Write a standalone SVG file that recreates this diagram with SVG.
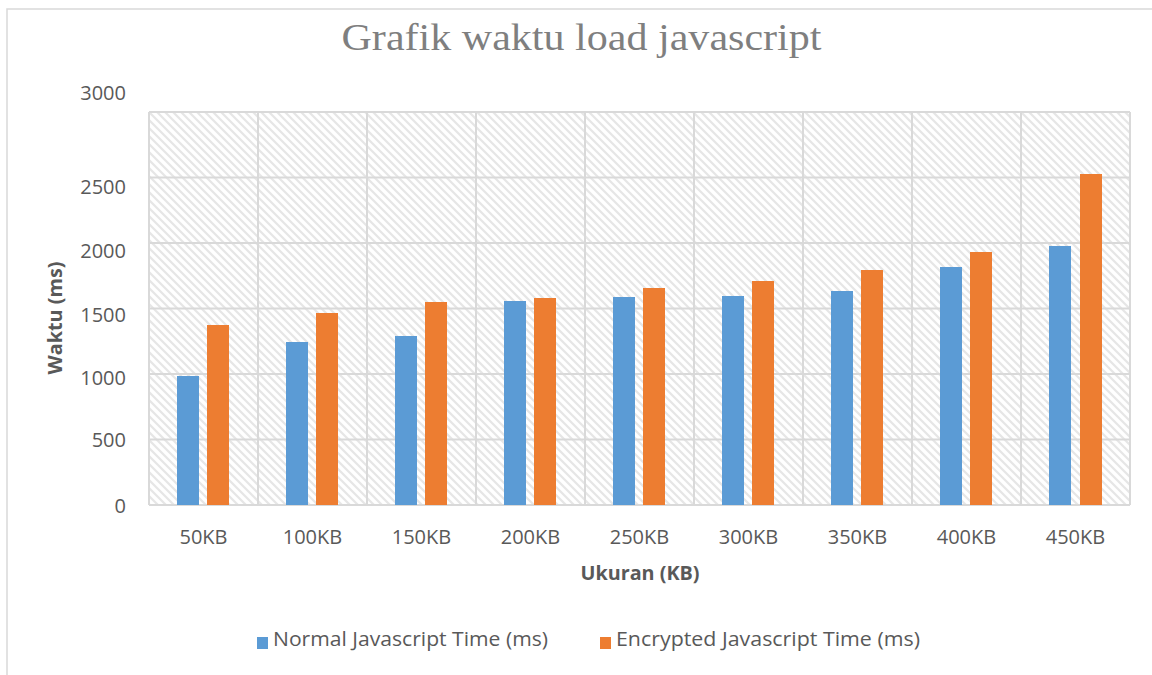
<svg xmlns="http://www.w3.org/2000/svg" width="1152" height="675" viewBox="0 0 1152 675">
  <style>
    .tick { font-family: "Open Sans", "Liberation Sans", sans-serif; font-size: 20px; fill: #595959; }
    .axis-title { font-family: "Open Sans", "Liberation Sans", sans-serif; font-size: 20px; font-weight: bold; fill: #595959; }
    .legend { font-family: "Open Sans", "Liberation Sans", sans-serif; font-size: 20px; fill: #595959; }
    .title { font-family: "Liberation Serif", "Times New Roman", serif; font-size: 38px; fill: #7f7f7f; }
    .grid line { stroke: #d9d9d9; stroke-width: 2; }
    .normal { fill: #5b9bd5; }
    .encrypted { fill: #ed7d31; }
  </style>
  <defs>
    <!-- wide downward diagonal fill for the plot area -->
    <pattern id="hatch" patternUnits="userSpaceOnUse" x="149" y="112" width="8" height="8">
      <rect width="8" height="8" fill="#ffffff"/>
      <path d="M-2,-2 L10,10 M-2,6 L2,10 M6,-2 L10,2" stroke="#e6e6e6" stroke-width="2.2"/>
    </pattern>
  </defs>

  <rect width="1152" height="675" fill="#ffffff"/>
  <!-- chart frame -->
  <path d="M7,675 L7,9 L1152,9" fill="none" stroke="#d9d9d9" stroke-width="1.5"/>

  <text class="title" x="581.5" y="50" text-anchor="middle" textLength="480" lengthAdjust="spacingAndGlyphs">Grafik waktu load javascript</text>

  <!-- plot area -->
  <rect x="149" y="112" width="981" height="393" fill="url(#hatch)"/>

  <g class="grid" id="gridlines">
    <line x1="149" y1="112" x2="1130" y2="112"/>
    <line x1="149" y1="177.5" x2="1130" y2="177.5"/>
    <line x1="149" y1="243" x2="1130" y2="243"/>
    <line x1="149" y1="308.5" x2="1130" y2="308.5"/>
    <line x1="149" y1="374" x2="1130" y2="374"/>
    <line x1="149" y1="439.5" x2="1130" y2="439.5"/>
    <line x1="149" y1="505" x2="1130" y2="505"/>
    <line x1="149" y1="112" x2="149" y2="505"/>
    <line x1="258" y1="112" x2="258" y2="505"/>
    <line x1="367" y1="112" x2="367" y2="505"/>
    <line x1="476" y1="112" x2="476" y2="505"/>
    <line x1="585" y1="112" x2="585" y2="505"/>
    <line x1="694" y1="112" x2="694" y2="505"/>
    <line x1="803" y1="112" x2="803" y2="505"/>
    <line x1="912" y1="112" x2="912" y2="505"/>
    <line x1="1021" y1="112" x2="1021" y2="505"/>
    <line x1="1130" y1="112" x2="1130" y2="505"/>
  </g>

  <!-- y axis ticks -->
  <g id="y-axis">
    <text class="tick" x="126" y="100" text-anchor="end">3000</text>
    <text class="tick" x="126" y="194" text-anchor="end">2500</text>
    <text class="tick" x="126" y="258" text-anchor="end">2000</text>
    <text class="tick" x="126" y="321.5" text-anchor="end">1500</text>
    <text class="tick" x="126" y="384.5" text-anchor="end">1000</text>
    <text class="tick" x="126" y="446.5" text-anchor="end">500</text>
    <text class="tick" x="126" y="512.5" text-anchor="end">0</text>
    <text class="axis-title" transform="translate(62,318) rotate(-90)" text-anchor="middle" textLength="113" lengthAdjust="spacingAndGlyphs">Waktu (ms)</text>
  </g>

  <!-- bars: normal (blue) and encrypted (orange) per size -->
  <g id="bar-50KB"><rect class="normal" x="177" y="376" width="22" height="129"/><rect class="encrypted" x="207" y="325" width="22" height="180"/></g>
  <g id="bar-100KB"><rect class="normal" x="286" y="342" width="22" height="163"/><rect class="encrypted" x="316" y="313" width="22" height="192"/></g>
  <g id="bar-150KB"><rect class="normal" x="395" y="336" width="22" height="169"/><rect class="encrypted" x="425" y="302" width="22" height="203"/></g>
  <g id="bar-200KB"><rect class="normal" x="504" y="301" width="22" height="204"/><rect class="encrypted" x="534" y="298" width="22" height="207"/></g>
  <g id="bar-250KB"><rect class="normal" x="613" y="297" width="22" height="208"/><rect class="encrypted" x="643" y="288" width="22" height="217"/></g>
  <g id="bar-300KB"><rect class="normal" x="722" y="296" width="22" height="209"/><rect class="encrypted" x="752" y="281" width="22" height="224"/></g>
  <g id="bar-350KB"><rect class="normal" x="831" y="291" width="22" height="214"/><rect class="encrypted" x="861" y="270" width="22" height="235"/></g>
  <g id="bar-400KB"><rect class="normal" x="940" y="267" width="22" height="238"/><rect class="encrypted" x="970" y="252" width="22" height="253"/></g>
  <g id="bar-450KB"><rect class="normal" x="1049" y="246" width="22" height="259"/><rect class="encrypted" x="1080" y="174" width="22" height="331"/></g>

  <!-- x axis categories -->
  <g id="x-axis">
    <text class="tick" x="203.5" y="544" text-anchor="middle">50KB</text>
    <text class="tick" x="312.5" y="544" text-anchor="middle">100KB</text>
    <text class="tick" x="421.5" y="544" text-anchor="middle">150KB</text>
    <text class="tick" x="530.5" y="544" text-anchor="middle">200KB</text>
    <text class="tick" x="639.5" y="544" text-anchor="middle">250KB</text>
    <text class="tick" x="748.5" y="544" text-anchor="middle">300KB</text>
    <text class="tick" x="857.5" y="544" text-anchor="middle">350KB</text>
    <text class="tick" x="966.5" y="544" text-anchor="middle">400KB</text>
    <text class="tick" x="1075.5" y="544" text-anchor="middle">450KB</text>
    <text class="axis-title" x="640" y="580" text-anchor="middle" textLength="119" lengthAdjust="spacingAndGlyphs">Ukuran (KB)</text>
  </g>

  <!-- legend -->
  <g id="legend">
    <rect class="normal" x="257" y="637" width="11" height="12"/>
    <text class="legend" x="273" y="646" textLength="275" lengthAdjust="spacingAndGlyphs">Normal Javascript Time (ms)</text>
    <rect class="encrypted" x="600" y="637" width="11" height="12"/>
    <text class="legend" x="616" y="646" textLength="304" lengthAdjust="spacingAndGlyphs">Encrypted Javascript Time (ms)</text>
  </g>
</svg>
